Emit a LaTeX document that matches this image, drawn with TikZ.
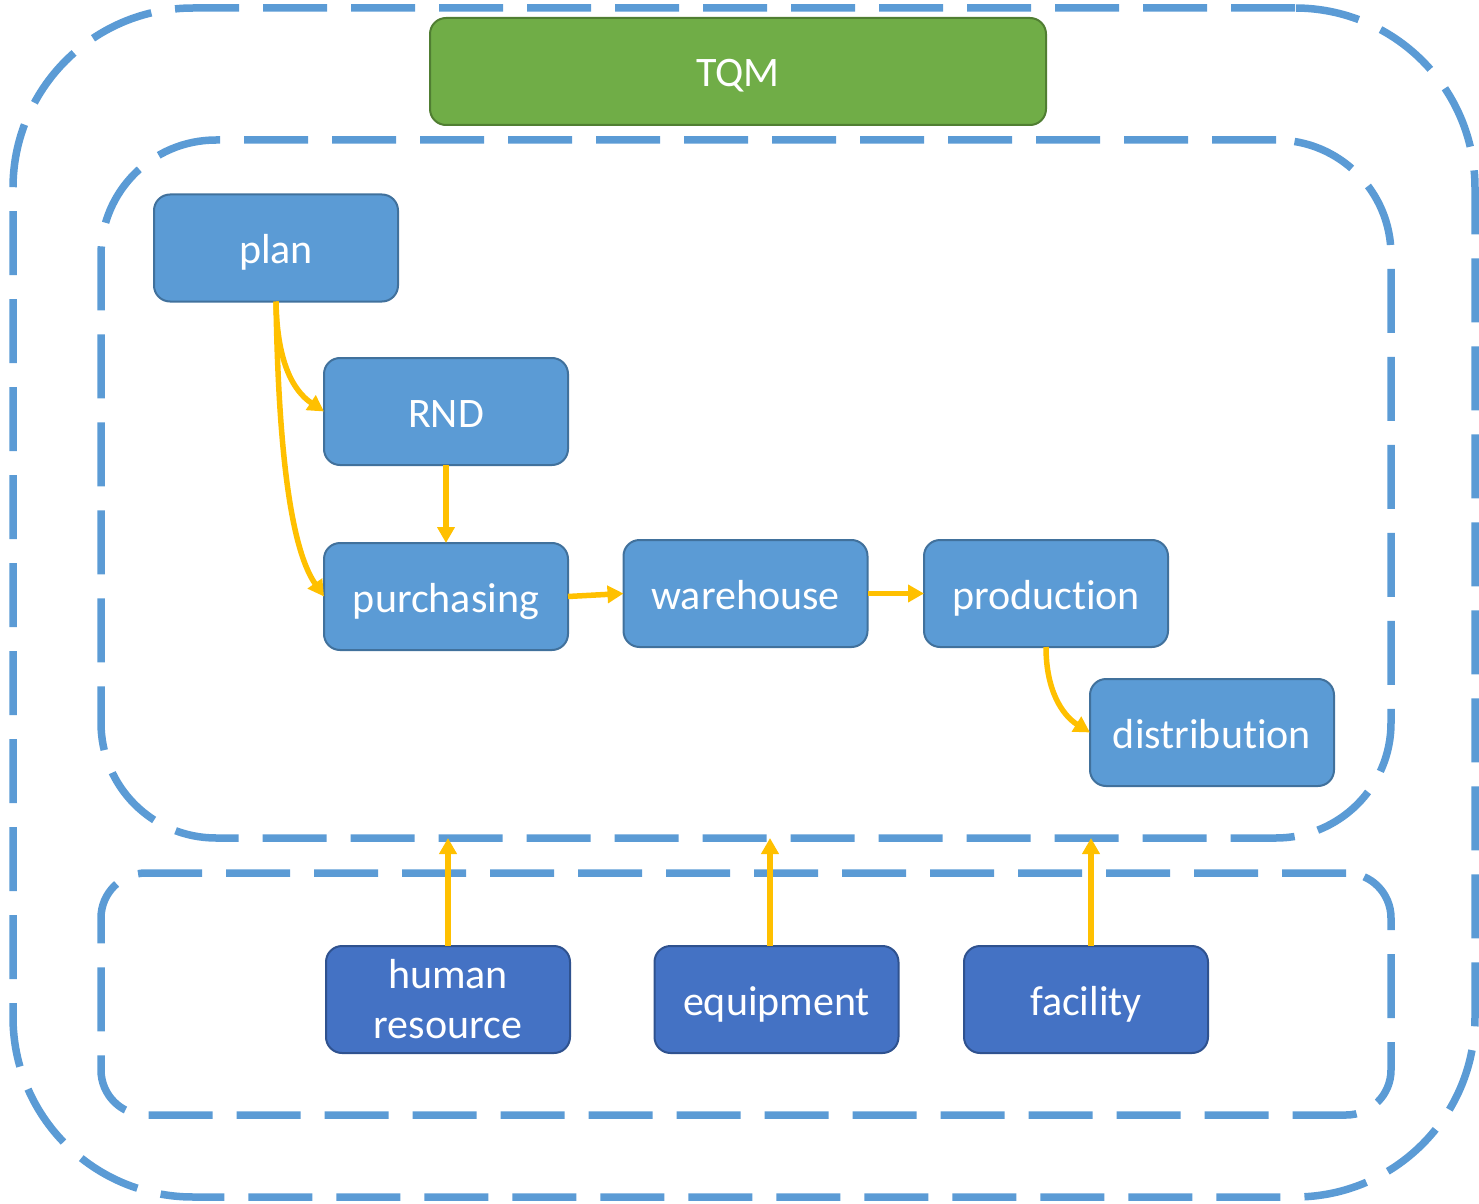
\documentclass[tikz,border=0pt]{standalone}
\usepackage{fontspec}
\setmainfont{Carlito}[Ligatures=NoCommon, RawFeature=-liga;-dlig]
\usetikzlibrary{arrows.meta}
\definecolor{frameblue}{HTML}{5B9BD5}
\definecolor{boxblue}{HTML}{5B9BD5}
\definecolor{boxblueline}{HTML}{41719C}
\definecolor{resblue}{HTML}{4472C4}
\definecolor{resblueline}{HTML}{2F528F}
\definecolor{tqmgreen}{HTML}{70AD47}
\definecolor{tqmgreenline}{HTML}{507E32}
\definecolor{flowgold}{HTML}{FFC000}
\tikzset{
  frame/.style={draw=frameblue, line width=3.75pt, dash pattern=on 32pt off 12pt,
    rectangle, outer sep=0pt, inner sep=0pt},
  box/.style={rectangle, rounded corners=8pt, line width=1pt, inner sep=0pt, outer sep=0pt,
    minimum width=122pt, minimum height=53.5pt, text=white, align=center,
    font=\fontsize{21}{25}\selectfont},
  oneline/.style={text height=15.5pt, text depth=0pt},
  stage/.style={box, oneline, fill=boxblue, draw=boxblueline},
  resource/.style={box, fill=resblue, draw=resblueline},
  flow/.style={draw=flowgold, line width=2.75pt, -{Triangle[length=8pt,width=8.5pt]}},
}
\begin{document}
\begin{tikzpicture}[x=0.5pt, y=-0.5pt]
\useasboundingbox (0,0) rectangle (1479,1204);

% dashed containers
\node[frame, rounded corners=90pt, minimum width=731pt, minimum height=594.5pt] (outer) at (744,602.5) {};
\node[frame, rounded corners=57.5pt, minimum width=645pt, minimum height=349pt] (core) at (746,489) {};
\node[frame, rounded corners=22.5pt, minimum width=645pt, minimum height=121pt] (base) at (746,994) {};

% quality management banner
\node[box, oneline, fill=tqmgreen, draw=tqmgreenline, minimum width=308pt] (tqm) at (738,71.5) {TQM};

% process stages
\node[stage] (plan) at (276,248) {plan};
\node[stage] (rnd) at (446,411.5) {RND};
\node[stage] (purch) at (446,596.5) {purchasing};
\node[stage] (ware) at (745.5,593.5) {warehouse};
\node[stage] (prod) at (1046,593.5) {production};
\node[stage] (dist) at (1212,732.5) {distribution};

% supporting resources
\node[resource] (hr) at (448,999.5) {human\\resource};
\node[resource, oneline] (equip) at (776.5,999.5) {equipment};
\node[resource, oneline] (fac) at (1086,999.5) {facility};

% process flow
\draw[flow] (plan.south) .. controls (277,360) and (292,390) .. (rnd.west);
\draw[flow] (plan.south) .. controls (278,430) and (288,545) .. (purch.west);
\draw[flow] (rnd.south) -- (purch.north);
\draw[flow] (purch.east) -- (ware.west);
\draw[flow] (ware.east) -- (prod.west);
\draw[flow] (prod.south) .. controls (1046,690) and (1062,715) .. (dist.west);

% resources feeding the process
\draw[flow] (hr.north) -- (hr.north |- core.south);
\draw[flow] (equip.north -| 770,0) -- (770,0 |- core.south);
\draw[flow] (fac.north -| 1091,0) -- (1091,0 |- core.south);
\end{tikzpicture}
\end{document}
